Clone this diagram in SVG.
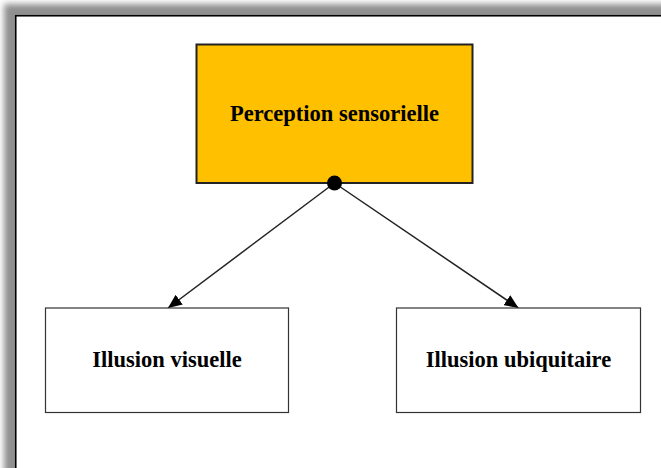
<svg xmlns="http://www.w3.org/2000/svg" width="661" height="468" viewBox="0 0 661 468">
  <defs>
    <filter id="pageShadow" x="-10%" y="-10%" width="120%" height="120%">
      <feGaussianBlur stdDeviation="3"/>
    </filter>
    <marker id="arrow" viewBox="0 0 14 12" refX="14" refY="6" markerWidth="14" markerHeight="12" markerUnits="userSpaceOnUse" orient="auto">
      <path d="M0,0 L14,6 L0,12 Z" fill="#000"/>
    </marker>
    <style>
      .label { font-family: "Liberation Serif", "Times New Roman", serif; font-weight: bold; font-size: 22.5px; fill: #000; text-anchor: middle; dominant-baseline: central; }
      .child { fill: #fff; stroke: #333; stroke-width: 1.2; }
      .edge { stroke: #222; stroke-width: 1.5; fill: none; marker-end: url(#arrow); }
    </style>
  </defs>

  <!-- page with shadow -->
  <rect x="0" y="0" width="661" height="468" fill="#fff"/>
  <rect x="4" y="4" width="720" height="520" fill="#8f8f8f" filter="url(#pageShadow)"/>
  <rect x="15.75" y="15.75" width="700" height="500" fill="#fff" stroke="#000" stroke-width="1.6"/>

  <!-- connectors -->
  <g id="connectors">
    <line class="edge" x1="334.5" y1="183" x2="168" y2="308"/>
    <line class="edge" x1="334.5" y1="183" x2="518.5" y2="308"/>
  </g>

  <g id="node-perception">
    <rect x="196.5" y="44.5" width="276" height="138.5" fill="#ffc000" stroke="#222" stroke-width="2"/>
    <text class="label" x="334.5" y="113">Perception sensorielle</text>
  </g>

  <g id="node-visuelle">
    <rect class="child" x="45.5" y="308" width="243" height="104.5"/>
    <text class="label" x="167" y="359.5">Illusion visuelle</text>
  </g>

  <g id="node-ubiquitaire">
    <rect class="child" x="396.5" y="308" width="244" height="104.5"/>
    <text class="label" x="518.5" y="359.5">Illusion ubiquitaire</text>
  </g>

  <!-- junction dot -->
  <circle cx="334.5" cy="183" r="7.5" fill="#000"/>
</svg>
